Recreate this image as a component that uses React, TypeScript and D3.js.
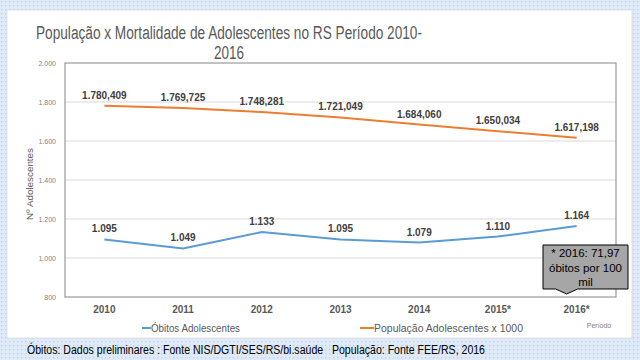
import React from "react";
import * as d3 from "d3";

const years = ["2010", "2011", "2012", "2013", "2014", "2015*", "2016*"];
const obitos = [1095, 1049, 1133, 1095, 1079, 1110, 1164];
const populacao = [1780.409, 1769.725, 1748.281, 1721.049, 1684.06, 1650.034, 1617.198];
const yTicks = [800, 1000, 1200, 1400, 1600, 1800, 2000];
const seriesNames = ["Óbitos Adolescentes", "População Adolescentes x 1000"];
const titleLines = ["População x Mortalidade de Adolescentes no RS Período 2010-", "2016"];
const footer = "Óbitos: Dados preliminares : Fonte NIS/DGTI/SES/RS/bi.saúde   População: Fonte FEE/RS, 2016";
const calloutLines = ["* 2016: 71,97", "óbitos por 100", "mil"];

const locale = d3.formatLocale({ decimal: ",", thousands: ".", grouping: [3], currency: ["R$", ""] });
const fmtInt = locale.format(",.0f");
const fmtDec = locale.format(",.3f");

const FONT = "'Liberation Sans', Arial, sans-serif";

export default function App() {
  const left = 65, right = 616, top = 63, bottom = 297;
  const x = d3.scalePoint<string>().domain(years).range([left, right]).padding(0.5);
  const y = d3.scaleLinear().domain([800, 2000]).range([bottom, top]);

  const line = d3
    .line<number>()
    .x((_, i) => x(years[i]) as number)
    .y((d) => y(d));

  const blue = "#5b9bd5";
  const orange = "#ed7d31";

  const lastX = x(years[years.length - 1]) as number;
  const bx0 = 543, bx1 = 628, by0 = 245, by1 = 289;
  const tipX = lastX - 10;

  return (
    <svg
      width={640}
      height={360}
      style={{ position: "absolute", left: 0, top: 0, display: "block" }}
      fontFamily={FONT}
    >
      <defs>
        <pattern id="dots" width="4" height="4" patternUnits="userSpaceOnUse">
          <rect width="4" height="4" fill="#deeaf7" />
          <rect x="1" y="1" width="1.3" height="1.3" fill="#b9d1ee" />
        </pattern>
      </defs>
      <rect width={640} height={360} fill="url(#dots)" />
      <rect x={7} y={10} width={625} height={328} fill="#ffffff" stroke="#d9d9d9" strokeWidth={0.8} />

      {titleLines.map((t, i) => (
        <text
          key={i}
          x={i === 0 ? 36 : 229}
          y={i === 0 ? 39 : 59}
          textAnchor={i === 0 ? "start" : "middle"}
          fontSize={18}
          fill="#595959"
          textLength={i === 0 ? 386 : 30}
          lengthAdjust="spacingAndGlyphs"
        >
          {t}
        </text>
      ))}

      {yTicks.map((t) => (
        <g key={t}>
          {t > 800 && t < 2000 && (
            <line x1={left} x2={right} y1={y(t)} y2={y(t)} stroke="#d9d9d9" strokeWidth={1} />
          )}
          <text x={56} y={y(t) + 2.5} textAnchor="end" fontSize={7} fill="#7f7f7f">
            {fmtInt(t)}
          </text>
        </g>
      ))}
      <rect x={left} y={top} width={right - left} height={bottom - top} fill="none" stroke="#868686" strokeWidth={1} />

      <text
        transform={`translate(33,184) rotate(-90)`}
        textAnchor="middle"
        fontSize={9}
        fill="#595959"
        textLength={72}
        lengthAdjust="spacingAndGlyphs"
      >
        Nº Adolescentes
      </text>

      {years.map((yr) => (
        <text key={yr} x={x(yr)} y={313} textAnchor="middle" fontSize={10} fontWeight="bold" fill="#595959">
          {yr}
        </text>
      ))}

      <path d={line(populacao) || ""} fill="none" stroke={orange} strokeWidth={2} />
      <path d={line(obitos) || ""} fill="none" stroke={blue} strokeWidth={2} />

      {populacao.map((v, i) => (
        <text key={"p" + i} x={x(years[i])} y={y(v) - 7} textAnchor="middle" fontSize={10} fontWeight="bold" fill="#404040">
          {fmtDec(v)}
        </text>
      ))}
      {obitos.map((v, i) => (
        <text key={"o" + i} x={x(years[i])} y={y(v) - 7} textAnchor="middle" fontSize={10} fontWeight="bold" fill="#404040">
          {fmtInt(v)}
        </text>
      ))}

      <path
        d={`M${bx0},${by0}H${bx1}V${by1}H${tipX + 11}L${tipX},${by1 + 5}L${tipX - 11},${by1}H${bx0}Z`}
        fill="#a6a6a6"
        stroke="#000"
        strokeWidth={1}
      />
      {calloutLines.map((t, i) => (
        <text key={i} x={(bx0 + bx1) / 2} y={257 + i * 14.5} textAnchor="middle" fontSize={11.5} fill="#000">
          {t}
        </text>
      ))}

      <text x={599} y={328} textAnchor="middle" fontSize={7} fill="#808080">
        Período
      </text>

      <line x1={142} x2={151} y1={328} y2={328} stroke={blue} strokeWidth={2} />
      <text x={151} y={331.5} fontSize={10} fill="#595959" textLength={89} lengthAdjust="spacingAndGlyphs">
        {seriesNames[0]}
      </text>
      <line x1={360} x2={374} y1={328} y2={328} stroke={orange} strokeWidth={2} />
      <text x={374} y={331.5} fontSize={10} fill="#595959" textLength={149} lengthAdjust="spacingAndGlyphs">
        {seriesNames[1]}
      </text>

      <text
        x={27}
        y={354}
        fontSize={12}
        fill="#000"
        textLength={458}
        lengthAdjust="spacingAndGlyphs"
        style={{ whiteSpace: "pre" }}
      >
        {footer}
      </text>
    </svg>
  );
}
